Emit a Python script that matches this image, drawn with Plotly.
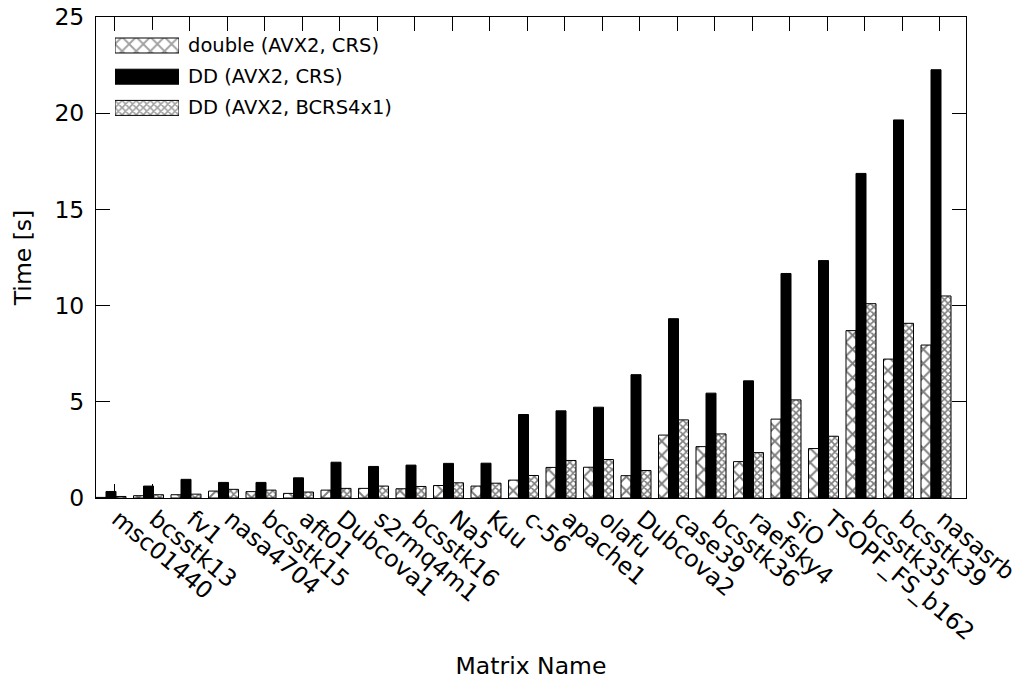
import plotly.graph_objects as go

# Matrix names (x categories)
matrices = ["msc01440", "bcsstk13", "fv1", "nasa4704", "bcsstk15", "aft01",
            "Dubcova1", "s2rmq4m1", "bcsstk16", "Na5", "Kuu", "c-56",
            "apache1", "olafu", "Dubcova2", "case39", "bcsstk36", "raefsky4",
            "SiO", "TSOPF_FS_b162", "bcsstk35", "bcsstk39", "nasasrb"]

# Execution time [s] per matrix
double_crs = [0.03, 0.12, 0.17, 0.36, 0.33, 0.24, 0.41, 0.50, 0.48, 0.65, 0.62, 0.93,
              1.59, 1.60, 1.16, 3.27, 2.67, 1.89, 4.10, 2.57, 8.70, 7.22, 7.95]
dd_crs = [0.34, 0.62, 0.97, 0.81, 0.81, 1.05, 1.86, 1.64, 1.71, 1.80, 1.81, 4.34,
          4.53, 4.72, 6.41, 9.32, 5.45, 6.09, 11.67, 12.34, 16.87, 19.65, 22.26]
dd_bcrs = [0.08, 0.17, 0.20, 0.45, 0.41, 0.31, 0.50, 0.62, 0.60, 0.79, 0.77, 1.17,
           1.95, 2.00, 1.43, 4.06, 3.33, 2.36, 5.10, 3.21, 10.10, 9.08, 10.50]

series_names = ["double (AVX2, CRS)", "DD (AVX2, CRS)", "DD (AVX2, BCRS4x1)"]
y_ticks = [0, 5, 10, 15, 20, 25]

FONT = "DejaVu Sans"
AXIS_FS = 23.5
KEY_FS = 19.5
positions = list(range(len(matrices)))

# Fill styles: coarse cross-hatch, solid black, fine cross-hatch
styles = [
    dict(color="white", line=dict(color="black", width=1),
         pattern=dict(shape="x", size=10, solidity=0.35, fgcolor="black", bgcolor="white")),
    dict(color="black", line=dict(color="black", width=1)),
    dict(color="white", line=dict(color="black", width=1),
         pattern=dict(shape="x", size=5, solidity=0.55, fgcolor="black", bgcolor="white")),
]

fig = go.Figure()
for name, vals, st in zip(series_names, [double_crs, dd_crs, dd_bcrs], styles):
    fig.add_trace(go.Bar(x=positions, y=vals, name=name, marker=st, showlegend=False))

# Key swatches in a small inset axis, one per series
key_rows = list(range(len(series_names)))
fig.add_trace(go.Bar(
    x=[1] * len(series_names), y=key_rows, orientation="h", width=0.48,
    xaxis="x2", yaxis="y2", showlegend=False, hoverinfo="skip",
    marker=dict(
        color=["white", "black", "white"],
        line=dict(color="black", width=1),
        pattern=dict(shape=["x", "", "x"], size=[10, 10, 5],
                     solidity=[0.35, 0.35, 0.55], fgcolor="black", bgcolor="white"),
    ),
))

W, H = 1017, 680
L, R, T, B = 96, 51, 17, 182
pw, ph = W - L - R, H - T - B

def px_x(p):
    return (p - L) / pw

def px_y(p):
    return (H - B - p) / ph

annotations = []
for i, name in enumerate(series_names):
    annotations.append(dict(
        x=px_x(186), y=px_y(45.5 + 31.2 * i), xref="paper", yref="paper",
        text=name, showarrow=False, xanchor="left", yanchor="middle",
        font=dict(family=FONT, size=KEY_FS, color="black"),
    ))

fig.update_layout(
    width=W, height=H,
    margin=dict(l=L, r=R, t=T, b=B, autoexpand=False),
    paper_bgcolor="white", plot_bgcolor="white",
    barmode="group", bargap=0.2, bargroupgap=0,
    font=dict(family=FONT, size=AXIS_FS, color="black"),
    showlegend=False,
    annotations=annotations,
    xaxis=dict(
        range=[-0.4, 22.8], tickmode="array",
        tickvals=[p + 0.1 for p in positions], ticktext=matrices,
        tickangle=40, ticks="inside", ticklen=14, tickwidth=1, tickcolor="black",
        showline=True, linecolor="black", linewidth=1, mirror="ticks",
        showgrid=False, zeroline=False, ticklabelstandoff=-3, ticklabelshift=3,
        ticklabeloverflow="allow",
        tickfont=dict(family=FONT, size=AXIS_FS, color="black"),
        title=dict(text="Matrix Name", standoff=20, font=dict(family=FONT, size=AXIS_FS)),
        automargin=False,
    ),
    yaxis=dict(
        range=[0, 25], tickmode="array", tickvals=y_ticks,
        ticks="inside", ticklen=14, tickwidth=1, tickcolor="black",
        showline=True, linecolor="black", linewidth=1, mirror="ticks",
        showgrid=False, zeroline=False, ticklabelstandoff=6,
        tickfont=dict(family=FONT, size=AXIS_FS, color="black"),
        title=dict(text="Time [s]", standoff=16, font=dict(family=FONT, size=AXIS_FS)),
        automargin=False,
    ),
    xaxis2=dict(domain=[px_x(115), px_x(179)], range=[0, 1], anchor="y2",
                visible=False, fixedrange=True),
    yaxis2=dict(domain=[px_y(45.5 + 31.2 * 2 + 15.6), px_y(45.5 - 15.6)],
                range=[2.5, -0.5], anchor="x2", visible=False, fixedrange=True),
)

fig.write_html("out.html")
